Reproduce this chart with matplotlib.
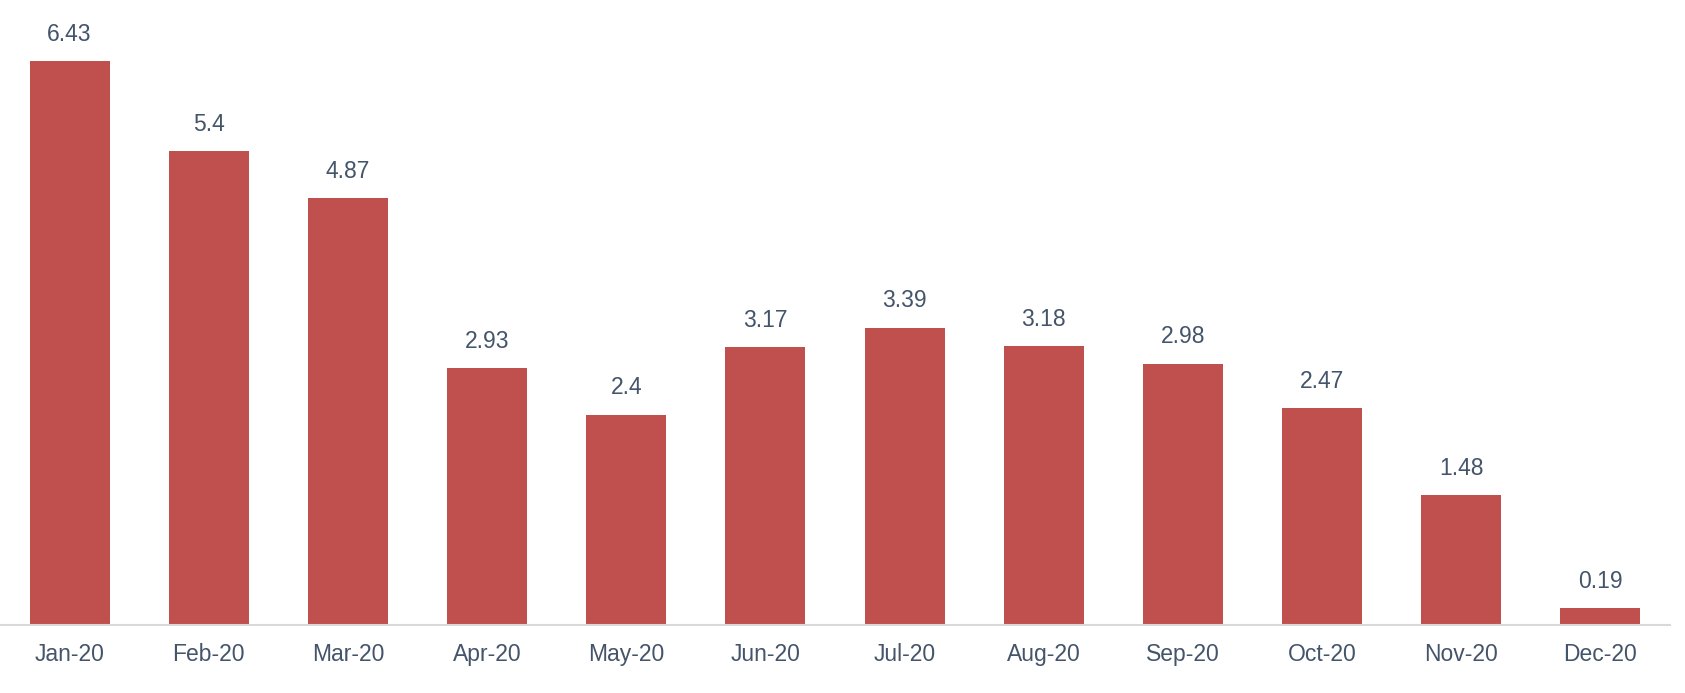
import matplotlib.pyplot as plt
import numpy as np

months = ['Jan-20', 'Feb-20', 'Mar-20', 'Apr-20', 'May-20', 'Jun-20',
          'Jul-20', 'Aug-20', 'Sep-20', 'Oct-20', 'Nov-20', 'Dec-20']
values = [6.43, 5.4, 4.87, 2.93, 2.4, 3.17, 3.39, 3.18, 2.98, 2.47, 1.48, 0.19]
value_labels = ['6.43', '5.4', '4.87', '2.93', '2.4', '3.17',
                '3.39', '3.18', '2.98', '2.47', '1.48', '0.19']

plt.rcParams['font.family'] = ['Liberation Sans', 'DejaVu Sans']
text_color = '#44546A'

fig = plt.figure(figsize=(16.85, 6.93), dpi=100)
ax = fig.add_axes([0, 1 - 625 / 693, 1670 / 1685, 625 / 693])

x = np.arange(len(months))
bars = ax.bar(x, values, width=0.575, color='#C0504D')

for xi, v, lab in zip(x, values, value_labels):
    ax.annotate(lab, (xi, v), xytext=(0, 11), textcoords='offset points',
                ha='center', va='bottom', fontsize=16.5, color=text_color)

ax.set_xlim(-0.5, len(months) - 0.5)
ax.set_ylim(0, 625 / 87.7)
ax.set_xticks(x)
ax.set_xticklabels(months, fontsize=16.5, color=text_color)
ax.tick_params(axis='x', length=0, pad=13)
ax.set_yticks([])
for s in ['top', 'right', 'left']:
    ax.spines[s].set_visible(False)
ax.spines['bottom'].set_color('#D9D9D9')
ax.spines['bottom'].set_linewidth(1.5)

fig.savefig('out.png', dpi=100)
